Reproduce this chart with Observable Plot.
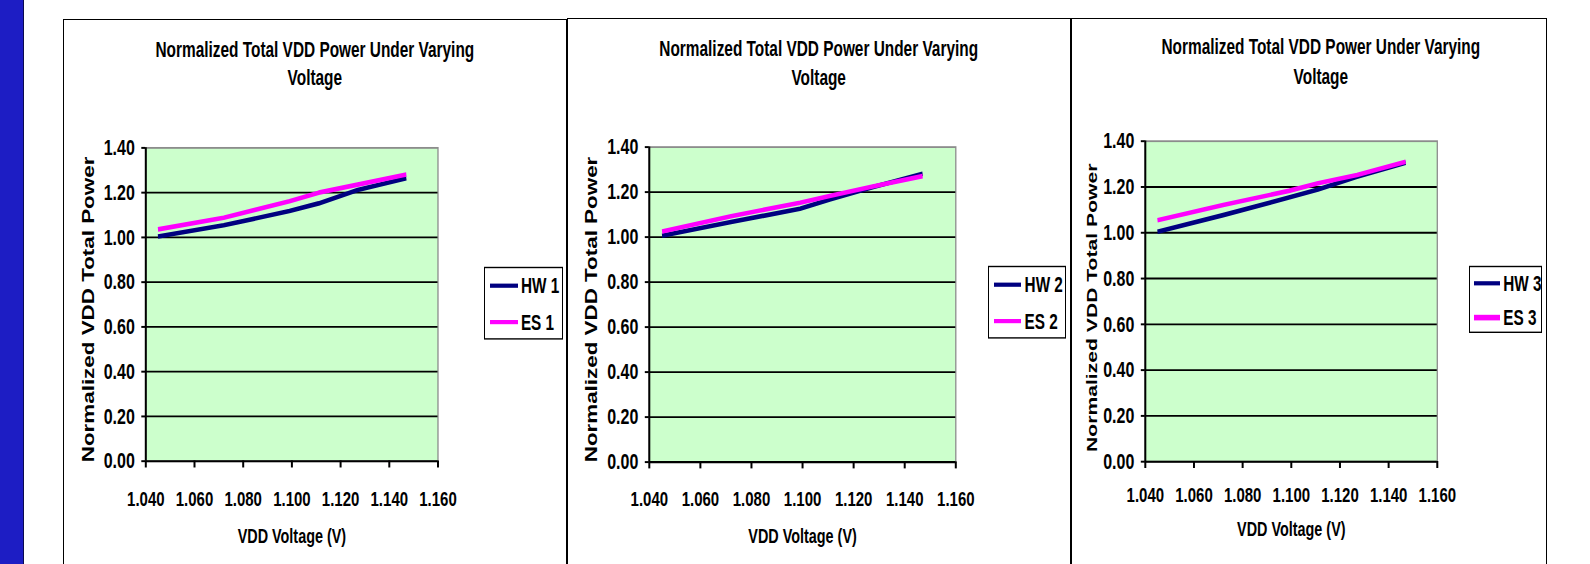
<!DOCTYPE html>
<html>
<head>
<meta charset="utf-8">
<script src="https://cdn.jsdelivr.net/npm/d3@7"></script>
<script src="https://cdn.jsdelivr.net/npm/@observablehq/plot@0.6"></script>
<style>
html,body{margin:0;padding:0;background:#fff;}
body{width:1590px;height:564px;overflow:hidden;position:relative;font-family:'Liberation Sans',Arial,sans-serif;font-weight:bold;color:#000;}
.strip{position:absolute;left:0;top:0;width:23px;height:564px;background:#1d1dc4;border-right:1.5px solid #0a0a50;}
.frame{position:absolute;height:620px;border:1px solid #000;box-sizing:border-box;}
.content{position:absolute;height:390px;transform:scaleY(1.4);transform-origin:0 0;}
.content svg{position:absolute;left:0;top:0;}
.title{position:absolute;left:0;width:100%;text-align:center;font-size:15.4px;line-height:20.5px;white-space:nowrap;}
.legend{position:absolute;border:1px solid #000;background:#fff;box-sizing:border-box;}
.sw{position:absolute;}
.lt{position:absolute;font-size:15.3px;line-height:20px;white-space:nowrap;}
</style>
</head>
<body>
<div class="strip"></div>
<script>
// ---------- data ----------
const voltages = [1.045, 1.072, 1.099, 1.111, 1.127, 1.147];
const hw1 = [1.004, 1.054, 1.118, 1.152, 1.212, 1.264];
const es1 = [1.036, 1.088, 1.162, 1.200, 1.236, 1.281];
const hw2 = [1.006, 1.067, 1.126, 1.168, 1.220, 1.282];
const es2 = [1.025, 1.093, 1.153, 1.184, 1.224, 1.271];
const hw3 = [1.004, 1.077, 1.154, 1.189, 1.245, 1.306];
const es3 = [1.055, 1.121, 1.183, 1.216, 1.252, 1.310];
const hwNames = ["HW 1", "HW 2", "HW 3"];
const esNames = ["ES 1", "ES 2", "ES 3"];
const xTicks = [1.04, 1.06, 1.08, 1.10, 1.12, 1.14, 1.16];
const yTicks = [0, 0.2, 0.4, 0.6, 0.8, 1.0, 1.2, 1.4];
const titleLines = ["Normalized Total VDD Power Under Varying", "Voltage"];
const xTitle = "VDD Voltage (V)";
const yTitle = "Normalized VDD Total Power";

// ---------- styles / layout ----------
const hwColor = "#000080";
const esColor = "#ff00ff";
const K = 1.4;      // vertical stretch of the whole chart picture
const H = 390;      // unscaled svg height
// page-pixel geometry of each panel
const layout = [
  {left: 63,     top: 19,   width: 503.7, plotL: 145.3,  plotR: 437.5,  yTop: 147.2, yBot: 460.5,
   xPad: 16.5, xtdy: 54.1, ytdx: -56.8, ytdy: 3.5, yts: 16, titleTop: 11.7, titleDx: 0,
   lg: {left: 421.3, top: 176.9, w: 78.4, h: 52.4, swL: 4.6, swW: 27.7, txL: 35.6, cy: [13.6, 39.7]}},
  {left: 566.7,  top: 18.3, width: 504,   plotL: 648.5,  plotR: 955,    yTop: 146.7, yBot: 461.7,
   xPad: 15.9, xtdy: 53.5, ytdx: -57.5, ytdy: 3.5, yts: 16, titleTop: 12.2, titleDx: 0,
   lg: {left: 421.3, top: 176.9, w: 78.4, h: 52.4, swL: 4.6, swW: 27.7, txL: 35.6, cy: [13.6, 39.7]}},
  {left: 1070.7, top: 18,   width: 476.3, plotL: 1144.5, plotR: 1436.5, yTop: 140.5, yBot: 461,
   xPad: 13.3, xtdy: 48.7, ytdx: -53.3, ytdy: 4.5, yts: 15.1, titleTop: 11.0, titleDx: 12,
   lg: {left: 398.3, top: 176.9, w: 73.3, h: 48.3, swL: 4.3, swW: 25.7, txL: 33.3, cy: [12.6, 37.1]}}
];
const hwAll = [hw1, hw2, hw3];
const esAll = [es1, es2, es3];

function panel(i) {
  const L = layout[i];
  const fr = document.createElement("div");
  fr.className = "frame";
  Object.assign(fr.style, {left: L.left + "px", top: L.top + "px", width: L.width + "px"});
  document.body.appendChild(fr);

  const c = document.createElement("div");
  c.className = "content";
  Object.assign(c.style, {left: L.left + "px", top: L.top + "px", width: L.width + "px"});
  document.body.appendChild(c);

  const hwData = voltages.map((v, j) => ({v, p: hwAll[i][j]}));
  const esData = voltages.map((v, j) => ({v, p: esAll[i][j]}));

  const chart = Plot.plot({
    width: L.width,
    height: H,
    marginLeft: L.plotL - L.left,
    marginRight: L.width - (L.plotR - L.left),
    marginTop: (L.yTop - L.top) / K,
    marginBottom: H - (L.yBot - L.top) / K,
    x: {domain: [xTicks[0], xTicks[xTicks.length - 1]]},
    y: {domain: [yTicks[0], yTicks[yTicks.length - 1]]},
    style: {background: "transparent", overflow: "visible", maxWidth: "none",
            fontFamily: "'Liberation Sans', Arial, sans-serif", fontWeight: "bold",
            fontSize: "15px", color: "#000"},
    marks: [
      Plot.frame({fill: "#ccffcc", stroke: "#8c8c8c", strokeWidth: 1.3}),
      Plot.ruleY(yTicks.slice(1, -1), {stroke: "#000", strokeWidth: 1.35}),
      Plot.ruleX([xTicks[0]], {stroke: "#000", strokeWidth: 2}),
      Plot.ruleY([yTicks[0]], {stroke: "#000", strokeWidth: 1.5}),
      Plot.line(hwData, {x: "v", y: "p", stroke: hwColor, strokeWidth: 3.3, strokeLinecap: "butt"}),
      Plot.line(esData, {x: "v", y: "p", stroke: esColor, strokeWidth: 3.3, strokeLinecap: "butt"}),
      Plot.axisY(yTicks, {tickFormat: d3.format(".2f"), tickSize: 4, tickPadding: 7, fontSize: 16, label: null, strokeWidth: 1.4}),
      Plot.axisX(xTicks, {tickFormat: d3.format(".3f"), tickSize: 5, tickPadding: L.xPad, fontSize: 15, label: null, strokeWidth: 2}),
      Plot.text([yTitle], {text: d => d, frameAnchor: "left", textAnchor: "middle", lineAnchor: "middle", rotate: -90, dx: L.ytdx, dy: L.ytdy, fontSize: L.yts}),
      Plot.text([xTitle], {text: d => d, frameAnchor: "bottom", textAnchor: "middle", lineAnchor: "middle", dy: L.xtdy, fontSize: 14.4})
    ]
  });
  c.appendChild(chart);

  const t = document.createElement("div");
  t.className = "title";
  t.style.top = L.titleTop + "px";
  t.style.left = L.titleDx + "px";
  t.innerHTML = titleLines.join("<br>");
  c.appendChild(t);

  // legend
  const g = L.lg;
  const lg = document.createElement("div");
  lg.className = "legend";
  Object.assign(lg.style, {left: g.left + "px", top: g.top + "px", width: g.w + "px", height: g.h + "px"});
  const entries = [[hwNames[i], hwColor, g.cy[0]], [esNames[i], esColor, g.cy[1]]];
  for (const [name, col, cy] of entries) {
    const sw = document.createElement("div");
    sw.className = "sw";
    Object.assign(sw.style, {left: g.swL + "px", width: g.swW + "px", height: "3.2px", top: (cy - 1.6 - 1) + "px", background: col});
    lg.appendChild(sw);
    const tx = document.createElement("div");
    tx.className = "lt";
    Object.assign(tx.style, {left: g.txL + "px", top: (cy - 9.8 - 1) + "px"});
    tx.textContent = name;
    lg.appendChild(tx);
  }
  c.appendChild(lg);
}

[0, 1, 2].forEach(panel);
</script>
</body>
</html>
